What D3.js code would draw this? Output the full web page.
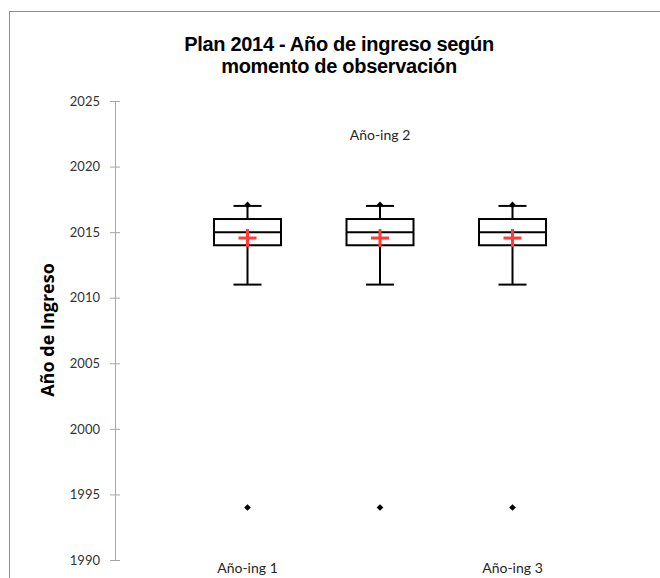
<!DOCTYPE html>
<html>
<head>
<meta charset="utf-8">
<script src="https://cdn.jsdelivr.net/npm/d3@7"></script>
<style>
  html, body { margin: 0; padding: 0; background: #fff; }
  svg { display: block; }
</style>
</head>
<body>
<script>
// ---- data ----
const categories = ["Año-ing 1", "Año-ing 2", "Año-ing 3"];
const whiskerLow = [2011, 2011, 2011];
const q1 = [2014, 2014, 2014];
const median = [2015, 2015, 2015];
const q3 = [2016, 2016, 2016];
const whiskerHigh = [2017, 2017, 2017];
const means = [2014.55, 2014.55, 2014.55];
const maxPoints = [2017, 2017, 2017];
const outliers = [1994, 1994, 1994];
const yTicks = [1990, 1995, 2000, 2005, 2010, 2015, 2020, 2025];
const labelAtTop = [false, true, false];

const W = 660, H = 578;
const svg = d3.select("body").append("svg").attr("width", W).attr("height", H);

// chart border
svg.append("rect").attr("x", 9.5).attr("y", 11.5).attr("width", 700).attr("height", 700)
  .attr("fill", "none").attr("stroke", "#8c8c8c").attr("stroke-width", 1);

const y = d3.scaleLinear().domain([1990, 2025]).range([560, 101]);
const x = d3.scalePoint().domain(categories).range([115, 645]).padding(1);

// title
const title = svg.append("text").attr("text-anchor", "middle")
  .attr("font-family", "'Liberation Sans Narrow','Liberation Sans',Arial,sans-serif")
  .attr("font-weight", "bold").attr("font-size", 20).attr("letter-spacing", -0.3).attr("fill", "#000");
title.append("tspan").attr("x", 339).attr("y", 51).text("Plan 2014 - Año de ingreso según");
title.append("tspan").attr("x", 339).attr("y", 73).text("momento de observación");

// y axis
const yAxis = d3.axisLeft(y).tickValues(yTicks).tickSize(0).tickPadding(15).tickFormat(d3.format("d"));
const gy = svg.append("g").attr("transform", "translate(115,0)").call(yAxis);
gy.select(".domain").attr("stroke", "#a6a6a6");
gy.selectAll(".tick text").attr("font-family", "Lato, 'Open Sans', sans-serif").attr("font-size", 13).attr("fill", "#333");
gy.selectAll(".tick").append("line").attr("x1", -5).attr("x2", 5).attr("stroke", "#a6a6a6");

// y label
svg.append("text").attr("transform", "translate(54,330) rotate(-90)")
  .attr("text-anchor", "middle").attr("font-family", "'Open Sans', Lato, sans-serif")
  .attr("font-weight", "bold").attr("font-size", 18).attr("fill", "#000").text("Año de Ingreso");

// boxes
const idx = d3.range(categories.length);
const boxW = 67, capW = 28;
const g = svg.append("g");
idx.forEach(i => {
  const cx = x(categories[i]);
  const gg = g.append("g").attr("stroke", "#000").attr("stroke-width", 2).attr("fill", "none");
  gg.append("line").attr("x1", cx).attr("x2", cx).attr("y1", y(q3[i])).attr("y2", y(whiskerHigh[i]));
  gg.append("line").attr("x1", cx).attr("x2", cx).attr("y1", y(q1[i])).attr("y2", y(whiskerLow[i]));
  gg.append("line").attr("x1", cx - capW / 2).attr("x2", cx + capW / 2).attr("y1", y(whiskerHigh[i])).attr("y2", y(whiskerHigh[i]));
  gg.append("line").attr("x1", cx - capW / 2).attr("x2", cx + capW / 2).attr("y1", y(whiskerLow[i])).attr("y2", y(whiskerLow[i]));
  gg.append("rect").attr("x", cx - boxW / 2).attr("y", y(q3[i])).attr("width", boxW).attr("height", y(q1[i]) - y(q3[i]));
  gg.append("line").attr("x1", cx - boxW / 2).attr("x2", cx + boxW / 2).attr("y1", y(median[i])).attr("y2", y(median[i]));
  // mean cross
  const my = y(means[i]);
  const mg = g.append("g").attr("stroke", "#ff3b3b").attr("stroke-width", 3);
  mg.append("line").attr("x1", cx - 9).attr("x2", cx + 9).attr("y1", my).attr("y2", my);
  mg.append("line").attr("x1", cx).attr("x2", cx).attr("y1", my - 9).attr("y2", my + 9);
  // max marker and outlier (diamonds)
  const diamond = d3.symbol().type(d3.symbolDiamond2).size(28);
  g.append("path").attr("d", diamond()).attr("transform", `translate(${cx},${y(maxPoints[i]) - 1})`).attr("fill", "#000");
  g.append("path").attr("d", diamond()).attr("transform", `translate(${cx},${y(outliers[i])})`).attr("fill", "#000");
  // category label
  svg.append("text").attr("x", cx).attr("y", labelAtTop[i] ? 140 : 573)
    .attr("text-anchor", "middle").attr("font-family", "Lato, 'Open Sans', sans-serif")
    .attr("font-size", 14).attr("fill", "#262626").text(categories[i]);
});
</script>
</body>
</html>
